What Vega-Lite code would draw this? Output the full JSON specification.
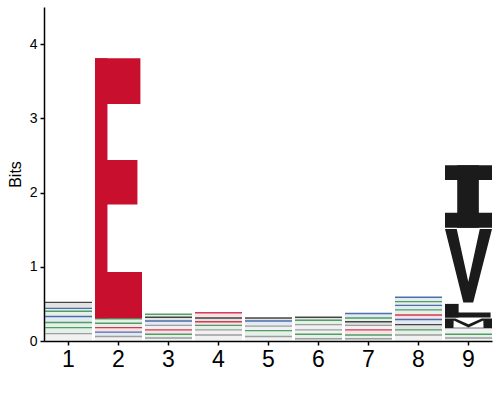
{
  "$schema": "https://vega.github.io/schema/vega-lite/v6.json",
  "width": 448,
  "height": 334,
  "autosize": {"type": "none"},
  "padding": {"left": 44, "top": 7, "right": 8, "bottom": 59},
  "config": {
    "font": "Liberation Sans",
    "view": {"stroke": null},
    "axis": {"titleFontSize": 16, "titleFontWeight": "normal"},
    "axisY": {"titleFontSize": 16, "titleFontWeight": "normal"},
    "style": {"guide-title": {"fontSize": 16, "fontWeight": "normal"}}
  },
  "datasets": {
    "small": [
      {"pos": 1, "aa": "G", "lo": 0.0, "hi": 0.10},
      {"pos": 1, "aa": "S", "lo": 0.10, "hi": 0.18},
      {"pos": 1, "aa": "T", "lo": 0.18, "hi": 0.25},
      {"pos": 1, "aa": "K", "lo": 0.25, "hi": 0.33},
      {"pos": 1, "aa": "N", "lo": 0.33, "hi": 0.40},
      {"pos": 1, "aa": "R", "lo": 0.40, "hi": 0.44},
      {"pos": 1, "aa": "A", "lo": 0.44, "hi": 0.52},
      {"pos": 2, "aa": "G", "lo": 0.0, "hi": 0.06},
      {"pos": 2, "aa": "K", "lo": 0.06, "hi": 0.12},
      {"pos": 2, "aa": "D", "lo": 0.12, "hi": 0.18},
      {"pos": 2, "aa": "S", "lo": 0.18, "hi": 0.24},
      {"pos": 2, "aa": "T", "lo": 0.24, "hi": 0.30},
      {"pos": 3, "aa": "G", "lo": 0.0, "hi": 0.04},
      {"pos": 3, "aa": "N", "lo": 0.04, "hi": 0.09},
      {"pos": 3, "aa": "D", "lo": 0.09, "hi": 0.15},
      {"pos": 3, "aa": "P", "lo": 0.15, "hi": 0.21},
      {"pos": 3, "aa": "K", "lo": 0.21, "hi": 0.27},
      {"pos": 3, "aa": "A", "lo": 0.27, "hi": 0.32},
      {"pos": 3, "aa": "S", "lo": 0.32, "hi": 0.36},
      {"pos": 4, "aa": "G", "lo": 0.0, "hi": 0.08},
      {"pos": 4, "aa": "C", "lo": 0.08, "hi": 0.15},
      {"pos": 4, "aa": "S", "lo": 0.15, "hi": 0.21},
      {"pos": 4, "aa": "D", "lo": 0.21, "hi": 0.26},
      {"pos": 4, "aa": "A", "lo": 0.26, "hi": 0.31},
      {"pos": 4, "aa": "E", "lo": 0.31, "hi": 0.38},
      {"pos": 5, "aa": "G", "lo": 0.0, "hi": 0.06},
      {"pos": 5, "aa": "T", "lo": 0.06, "hi": 0.14},
      {"pos": 5, "aa": "P", "lo": 0.14, "hi": 0.20},
      {"pos": 5, "aa": "K", "lo": 0.20, "hi": 0.27},
      {"pos": 5, "aa": "A", "lo": 0.27, "hi": 0.31},
      {"pos": 6, "aa": "G", "lo": 0.0, "hi": 0.03},
      {"pos": 6, "aa": "S", "lo": 0.03, "hi": 0.09},
      {"pos": 6, "aa": "P", "lo": 0.09, "hi": 0.15},
      {"pos": 6, "aa": "C", "lo": 0.15, "hi": 0.22},
      {"pos": 6, "aa": "T", "lo": 0.22, "hi": 0.28},
      {"pos": 6, "aa": "A", "lo": 0.28, "hi": 0.32},
      {"pos": 7, "aa": "G", "lo": 0.0, "hi": 0.03},
      {"pos": 7, "aa": "S", "lo": 0.03, "hi": 0.08},
      {"pos": 7, "aa": "D", "lo": 0.08, "hi": 0.15},
      {"pos": 7, "aa": "P", "lo": 0.15, "hi": 0.21},
      {"pos": 7, "aa": "L", "lo": 0.21, "hi": 0.26},
      {"pos": 7, "aa": "N", "lo": 0.26, "hi": 0.31},
      {"pos": 7, "aa": "K", "lo": 0.31, "hi": 0.37},
      {"pos": 8, "aa": "G", "lo": 0.0, "hi": 0.08},
      {"pos": 8, "aa": "S", "lo": 0.08, "hi": 0.15},
      {"pos": 8, "aa": "A", "lo": 0.15, "hi": 0.22},
      {"pos": 8, "aa": "R", "lo": 0.22, "hi": 0.29},
      {"pos": 8, "aa": "D", "lo": 0.29, "hi": 0.35},
      {"pos": 8, "aa": "T", "lo": 0.35, "hi": 0.42},
      {"pos": 8, "aa": "K", "lo": 0.42, "hi": 0.48},
      {"pos": 8, "aa": "N", "lo": 0.48, "hi": 0.53},
      {"pos": 8, "aa": "H", "lo": 0.53, "hi": 0.59},
      {"pos": 9, "aa": "G", "lo": 0.0, "hi": 0.04},
      {"pos": 9, "aa": "S", "lo": 0.04, "hi": 0.09},
      {"pos": 9, "aa": "P", "lo": 0.09, "hi": 0.175}
    ],
    "big": [
      {"pos": 2, "aa": "E", "lo": 0.306, "hi": 3.81},
      {"pos": 9, "aa": "M", "lo": 0.175, "hi": 0.303},
      {"pos": 9, "aa": "L", "lo": 0.317, "hi": 0.50},
      {"pos": 9, "aa": "V", "lo": 0.52, "hi": 1.51},
      {"pos": 9, "aa": "I", "lo": 1.527, "hi": 2.368}
    ],
    "rectparts": [
      {"aa": "E", "fx0": 0, "fx1": 0.265, "fy0": 0, "fy1": 1},
      {"aa": "E", "fx0": 0, "fx1": 0.966, "fy0": 0.824, "fy1": 1},
      {"aa": "E", "fx0": 0, "fx1": 0.903, "fy0": 0.438, "fy1": 0.609},
      {"aa": "E", "fx0": 0, "fx1": 1, "fy0": 0, "fy1": 0.178},
      {"aa": "I", "fx0": 0, "fx1": 1, "fy0": 0, "fy1": 0.24},
      {"aa": "I", "fx0": 0, "fx1": 1, "fy0": 0.764, "fy1": 1},
      {"aa": "I", "fx0": 0.26, "fx1": 0.72, "fy0": 0, "fy1": 1},
      {"aa": "L", "fx0": 0, "fx1": 0.29, "fy0": 0, "fy1": 1},
      {"aa": "L", "fx0": 0, "fx1": 0.97, "fy0": 0, "fy1": 0.36}
    ],
    "polyparts": [
      {"aa": "V", "fx": 0, "flo": 0.999, "fhi": 1},
      {"aa": "V", "fx": 0.25, "flo": 0.359, "fhi": 1},
      {"aa": "V", "fx": 0.39, "flo": 0, "fhi": 0.589},
      {"aa": "V", "fx": 0.495, "flo": 0, "fhi": 0.28},
      {"aa": "V", "fx": 0.60, "flo": 0, "fhi": 0.589},
      {"aa": "V", "fx": 0.74, "flo": 0.35, "fhi": 1},
      {"aa": "V", "fx": 1, "flo": 0.999, "fhi": 1},
      {"aa": "M", "fx": 0, "flo": 0, "fhi": 1},
      {"aa": "M", "fx": 0.18, "flo": 0, "fhi": 1},
      {"aa": "M", "fx": 0.185, "flo": 0.8, "fhi": 1},
      {"aa": "M", "fx": 0.22, "flo": 0.717, "fhi": 1},
      {"aa": "M", "fx": 0.5, "flo": 0.05, "fhi": 0.4},
      {"aa": "M", "fx": 0.78, "flo": 0.717, "fhi": 1},
      {"aa": "M", "fx": 0.815, "flo": 0.8, "fhi": 1},
      {"aa": "M", "fx": 0.82, "flo": 0, "fhi": 1},
      {"aa": "M", "fx": 1, "flo": 0, "fhi": 1}
    ]
  },
  "encoding": {
    "color": {"field": "aa", "type": "nominal", "legend": null,
              "scale": {"domain": ["A", "V", "L", "I", "M", "F", "W", "E", "D", "K", "R", "H", "S", "T", "N", "Q", "Y", "G", "P", "C"],
                        "range": ["#1b1b1b", "#1b1b1b", "#1b1b1b", "#1b1b1b", "#1b1b1b", "#1b1b1b", "#1b1b1b", "#c8102e", "#c8102e", "#234f96", "#234f96", "#234f96", "#2b8a43", "#2b8a43", "#2b8a43", "#2b8a43", "#2b8a43", "#8a8a8a", "#8a8a8a", "#8a8a8a"]}}
  },
  "layer": [
    {
      "data": {"name": "small"},
      "transform": [
        {"calculate": "datum.pos - 0.46", "as": "x0"},
        {"calculate": "datum.pos + 0.48", "as": "x1"}
      ],
      "layer": [
        {
          "mark": {"type": "rect", "opacity": 0.12},
          "encoding": {
            "x": {"field": "x0", "type": "quantitative",
                  "scale": {"domain": [0.52, 9.48], "nice": false, "zero": false},
                  "axis": {"values": [1, 2, 3, 4, 5, 6, 7, 8, 9], "format": "d", "title": null, "grid": false, "labelFontSize": 23, "labelColor": "#000", "labelPadding": 3, "tickSize": 4, "tickWidth": 1.5, "tickColor": "#000", "domainWidth": 1.5, "domainColor": "#000"}},
            "x2": {"field": "x1"},
            "y": {"field": "lo", "type": "quantitative",
                  "scale": {"domain": [0, 4.5], "nice": false},
                  "axis": {"values": [0, 1, 2, 3, 4], "format": "d", "title": "Bits", "grid": false, "labelFontSize": 14, "labelColor": "#000", "labelPadding": 3, "tickSize": 4, "tickWidth": 1.5, "tickColor": "#000", "domainWidth": 1.5, "domainColor": "#000", "titleFontSize": 16, "titleFontWeight": "normal", "titleColor": "#000", "titlePadding": 6}},
            "y2": {"field": "hi"}
          }
        },
        {
          "mark": {"type": "rule", "strokeWidth": 1.4, "opacity": 0.8},
          "encoding": {
            "x": {"field": "x0", "type": "quantitative",
                  "axis": {"values": [1, 2, 3, 4, 5, 6, 7, 8, 9], "format": "d", "title": null, "grid": false, "labelFontSize": 23, "labelColor": "#000", "labelPadding": 3, "tickSize": 4, "tickWidth": 1.5, "tickColor": "#000", "domainWidth": 1.5, "domainColor": "#000"}},
            "x2": {"field": "x1"},
            "y": {"field": "hi", "type": "quantitative",
                  "axis": {"values": [0, 1, 2, 3, 4], "format": "d", "title": "Bits", "grid": false, "labelFontSize": 14, "labelColor": "#000", "labelPadding": 3, "tickSize": 4, "tickWidth": 1.5, "tickColor": "#000", "domainWidth": 1.5, "domainColor": "#000", "titleFontSize": 16, "titleFontWeight": "normal", "titleColor": "#000", "titlePadding": 6}}
          }
        }
      ]
    },
    {
      "data": {"name": "rectparts"},
      "transform": [
        {"lookup": "aa", "from": {"data": {"name": "big"}, "key": "aa", "fields": ["pos", "lo", "hi"]}},
        {"calculate": "datum.pos - 0.46 + datum.fx0 * 0.94", "as": "x0"},
        {"calculate": "datum.pos - 0.46 + datum.fx1 * 0.94", "as": "x1"},
        {"calculate": "datum.lo + datum.fy0 * (datum.hi - datum.lo)", "as": "y0"},
        {"calculate": "datum.lo + datum.fy1 * (datum.hi - datum.lo)", "as": "y1"}
      ],
      "mark": {"type": "rect"},
      "encoding": {
        "x": {"field": "x0", "type": "quantitative",
              "axis": {"values": [1, 2, 3, 4, 5, 6, 7, 8, 9], "format": "d", "title": null, "grid": false, "labelFontSize": 23, "labelColor": "#000", "labelPadding": 3, "tickSize": 4, "tickWidth": 1.5, "tickColor": "#000", "domainWidth": 1.5, "domainColor": "#000"}},
        "x2": {"field": "x1"},
        "y": {"field": "y0", "type": "quantitative",
              "axis": {"values": [0, 1, 2, 3, 4], "format": "d", "title": "Bits", "grid": false, "labelFontSize": 14, "labelColor": "#000", "labelPadding": 3, "tickSize": 4, "tickWidth": 1.5, "tickColor": "#000", "domainWidth": 1.5, "domainColor": "#000", "titleFontSize": 16, "titleFontWeight": "normal", "titleColor": "#000", "titlePadding": 6}},
        "y2": {"field": "y1"}
      }
    },
    {
      "data": {"name": "polyparts"},
      "transform": [
        {"lookup": "aa", "from": {"data": {"name": "big"}, "key": "aa", "fields": ["pos", "lo", "hi"]}},
        {"calculate": "datum.pos - 0.46 + datum.fx * 0.94", "as": "px"},
        {"calculate": "datum.lo + datum.flo * (datum.hi - datum.lo)", "as": "ylo"},
        {"calculate": "datum.lo + datum.fhi * (datum.hi - datum.lo)", "as": "yhi"}
      ],
      "mark": {"type": "area", "interpolate": "linear", "orient": "vertical", "opacity": 1},
      "encoding": {
        "x": {"field": "px", "type": "quantitative",
              "axis": {"values": [1, 2, 3, 4, 5, 6, 7, 8, 9], "format": "d", "title": null, "grid": false, "labelFontSize": 23, "labelColor": "#000", "labelPadding": 3, "tickSize": 4, "tickWidth": 1.5, "tickColor": "#000", "domainWidth": 1.5, "domainColor": "#000"}},
        "y": {"field": "yhi", "type": "quantitative", "stack": null,
              "axis": {"values": [0, 1, 2, 3, 4], "format": "d", "title": "Bits", "grid": false, "labelFontSize": 14, "labelColor": "#000", "labelPadding": 3, "tickSize": 4, "tickWidth": 1.5, "tickColor": "#000", "domainWidth": 1.5, "domainColor": "#000", "titleFontSize": 16, "titleFontWeight": "normal", "titleColor": "#000", "titlePadding": 6}},
        "y2": {"field": "ylo"},
        "detail": {"field": "aa", "type": "nominal"}
      }
    }
  ]
}
